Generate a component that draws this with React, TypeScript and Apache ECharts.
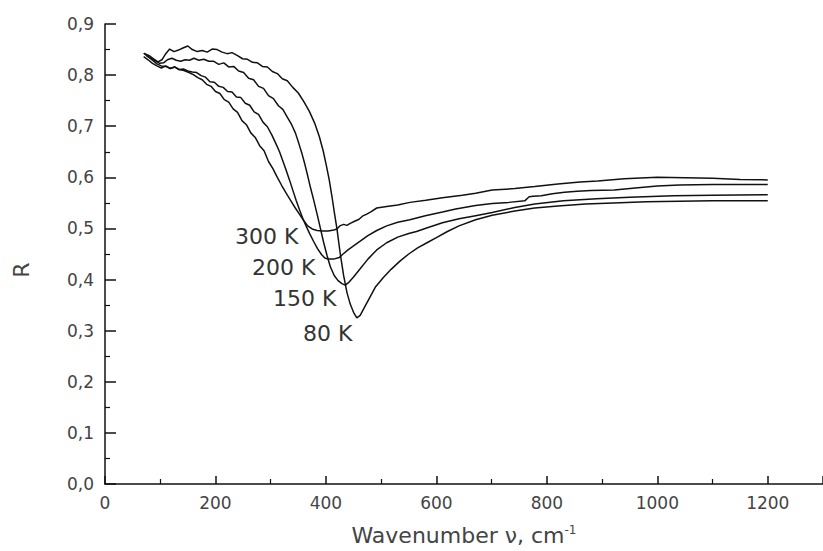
import React, { useEffect, useRef } from "react";
import * as echarts from "echarts";

const curveNames = ["80 K", "150 K", "200 K", "300 K"];

const data80K: [number, number][] = [
  [72,0.842],[80,0.838],[88,0.832],[96,0.826],[103,0.830],[110,0.842],[117,0.851],[125,0.846],[133,0.849],[141,0.853],
  [150,0.857],[158,0.850],[167,0.846],[176,0.848],[185,0.845],[194,0.851],[203,0.850],[212,0.845],[221,0.842],[230,0.844],
  [240,0.838],[249,0.832],[258,0.831],[267,0.825],[276,0.824],[285,0.817],[294,0.816],[303,0.807],[312,0.803],[321,0.793],
  [330,0.789],[340,0.776],[350,0.765],[360,0.748],[370,0.729],[380,0.705],[388,0.680],[395,0.652],[401,0.622],[406,0.595],
  [411,0.562],[416,0.526],[420,0.499],[426,0.450],[432,0.408],[438,0.375],[444,0.352],[450,0.336],[456,0.325],[462,0.330],
  [470,0.346],[480,0.366],[490,0.386],[504,0.404],[518,0.420],[534,0.436],[550,0.450],[566,0.462],[583,0.472],[600,0.482],
  [620,0.494],[641,0.505],[671,0.517],[701,0.526],[742,0.534],[778,0.540],[820,0.544],[870,0.548],[920,0.550],[980,0.552],
  [1040,0.553],[1100,0.554],[1150,0.554],[1200,0.554]
];

const data150K: [number, number][] = [
  [75,0.838],[83,0.833],[91,0.828],[99,0.823],[106,0.824],[113,0.830],[121,0.833],[129,0.829],[137,0.827],[145,0.830],
  [153,0.829],[161,0.833],[170,0.829],[179,0.831],[188,0.827],[197,0.827],[206,0.821],[215,0.824],[224,0.816],[233,0.817],
  [242,0.808],[251,0.805],[260,0.794],[269,0.791],[278,0.778],[287,0.774],[296,0.760],[305,0.754],[314,0.740],[322,0.733],
  [330,0.718],[338,0.703],[345,0.686],[351,0.666],[357,0.645],[362,0.625],[367,0.603],[372,0.580],[378,0.555],[384,0.528],
  [390,0.500],[396,0.472],[402,0.447],[408,0.425],[415,0.408],[422,0.398],[429,0.392],[435,0.389],[442,0.395],[450,0.405],
  [462,0.421],[476,0.440],[492,0.458],[510,0.472],[530,0.483],[550,0.490],[564,0.494],[585,0.502],[611,0.511],[641,0.519],
  [671,0.525],[701,0.531],[742,0.541],[778,0.548],[830,0.554],[890,0.558],[950,0.561],[1029,0.564],[1100,0.565],[1200,0.566]
];

const data200K: [number, number][] = [
  [70,0.836],[78,0.830],[86,0.823],[94,0.818],[102,0.814],[110,0.818],[118,0.813],[126,0.816],[134,0.811],[142,0.812],
  [150,0.808],[158,0.806],[166,0.805],[174,0.799],[182,0.796],[190,0.787],[198,0.786],[206,0.778],[214,0.776],[222,0.768],
  [230,0.767],[238,0.757],[246,0.756],[254,0.745],[262,0.741],[270,0.728],[278,0.723],[286,0.708],[294,0.699],[302,0.683],
  [309,0.667],[316,0.650],[322,0.632],[328,0.614],[334,0.595],[340,0.575],[346,0.555],[352,0.537],[358,0.520],[364,0.505],
  [371,0.489],[378,0.474],[385,0.460],[392,0.449],[398,0.442],[404,0.440],[414,0.440],[424,0.443],[430,0.449],[440,0.458],
  [450,0.466],[462,0.475],[476,0.486],[492,0.496],[510,0.505],[530,0.512],[552,0.517],[580,0.525],[611,0.532],[635,0.538],
  [671,0.545],[701,0.549],[731,0.551],[760,0.554],[768,0.562],[775,0.563],[790,0.564],[810,0.568],[832,0.571],[855,0.573],
  [880,0.574],[922,0.575],[960,0.579],[1000,0.583],[1040,0.585],[1100,0.586],[1200,0.586]
];

const data300K: [number, number][] = [
  [70,0.843],[78,0.836],[86,0.829],[94,0.822],[102,0.818],[110,0.817],[118,0.813],[126,0.816],[134,0.811],[143,0.809],
  [152,0.805],[160,0.801],[168,0.795],[176,0.791],[184,0.782],[192,0.778],[200,0.768],[208,0.764],[216,0.752],[224,0.747],
  [232,0.734],[240,0.727],[248,0.711],[256,0.703],[264,0.687],[272,0.678],[280,0.662],[288,0.652],[296,0.631],[304,0.617],
  [312,0.600],[320,0.584],[328,0.569],[336,0.555],[344,0.541],[352,0.528],[360,0.515],[367,0.505],[375,0.499],[384,0.496],
  [394,0.495],[404,0.495],[414,0.497],[420,0.499],[425,0.505],[432,0.508],[438,0.506],[444,0.510],[452,0.514],[460,0.518],
  [466,0.524],[474,0.528],[482,0.533],[492,0.540],[510,0.543],[530,0.546],[552,0.551],[581,0.555],[611,0.560],[647,0.565],
  [671,0.569],[701,0.575],[742,0.578],[778,0.582],[820,0.587],[860,0.591],[892,0.593],[940,0.597],[1000,0.600],[1050,0.599],
  [1100,0.598],[1150,0.596],[1200,0.595]
];

const seriesData = [data80K, data150K, data200K, data300K];

const FONT = "'DejaVu Sans', Arial, sans-serif";
const LABEL_COLOR = "#444";

export default function App() {
  const ref = useRef<HTMLDivElement>(null);
  useEffect(() => {
    if (!ref.current) return;
    const chart = echarts.init(ref.current, null, { renderer: "svg" });
    const labelPos: Record<string, [number, number]> = {
      "300 K": [235, 236],
      "200 K": [252, 267],
      "150 K": [273, 298],
      "80 K": [303, 333],
    };
    chart.setOption({
      animation: false,
      backgroundColor: "#fff",
      grid: { left: 105, top: 24, width: 726, height: 463, containLabel: false },
      xAxis: {
        type: "value",
        min: 0,
        max: 1300,
        interval: 200,
        name: "{a|Wavenumber ν, cm}{b|-1}",
        nameLocation: "middle",
        nameGap: 40,
        nameTextStyle: {
          rich: {
            a: { fontFamily: FONT, fontSize: 22, color: LABEL_COLOR },
            b: { fontFamily: FONT, fontSize: 12, color: LABEL_COLOR, verticalAlign: "top" },
          },
        },
        axisLine: { show: true, onZero: false, lineStyle: { color: "#111", width: 1.5 } },
        axisTick: { show: true, inside: true, length: 8, lineStyle: { color: "#111", width: 1.5 } },
        minorTick: { show: true, splitNumber: 2, length: 5, lineStyle: { color: "#111", width: 1.2 } },
        axisLabel: {
          showMaxLabel: false,
          margin: 10,
          fontFamily: FONT,
          fontSize: 17,
          color: LABEL_COLOR,
          formatter: (v: number) => (v % 200 === 0 ? String(v) : ""),
        },
        splitLine: { show: false },
      },
      yAxis: {
        type: "value",
        min: 0,
        max: 0.9,
        interval: 0.1,
        axisLine: { show: true, onZero: false, lineStyle: { color: "#111", width: 1.5 } },
        axisTick: { show: true, inside: true, length: 11, lineStyle: { color: "#111", width: 1.5 } },
        minorTick: { show: true, splitNumber: 2, length: 5, lineStyle: { color: "#111", width: 1.2 } },
        axisLabel: {
          margin: 11,
          fontFamily: FONT,
          fontSize: 17,
          color: LABEL_COLOR,
          formatter: (v: number) => v.toFixed(1).replace(".", ","),
        },
        splitLine: { show: false },
      },
      series: seriesData.map((d, i) => ({
        name: curveNames[i],
        type: "line",
        data: d,
        showSymbol: false,
        symbol: "none",
        lineStyle: { color: "#111", width: 1.5 },
        z: 3,
      })),
      graphic: [
        {
          type: "text",
          x: 21,
          y: 270,
          rotation: Math.PI / 2,
          style: {
            text: "R",
            fontFamily: FONT,
            fontSize: 22,
            fill: LABEL_COLOR,
            align: "center",
            verticalAlign: "middle",
          },
        },
        ...Object.keys(labelPos).map((k) => ({
          type: "text",
          x: labelPos[k][0],
          y: labelPos[k][1],
          style: {
            text: k,
            fontFamily: FONT,
            fontSize: 22,
            fill: "#333",
            align: "left",
            verticalAlign: "middle",
          },
        })),
      ],
    });
    return () => chart.dispose();
  }, []);
  return (
    <div
      ref={ref}
      style={{ position: "fixed", left: 0, top: 0, width: 823, height: 551, background: "#fff" }}
    />
  );
}
